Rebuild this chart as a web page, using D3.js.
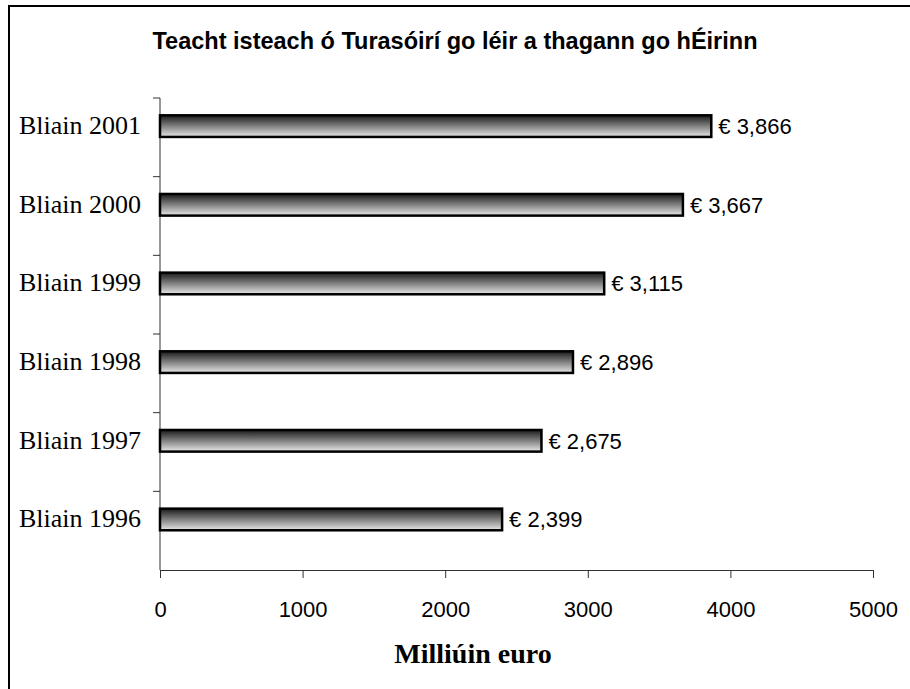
<!DOCTYPE html>
<html>
<head>
<meta charset="utf-8">
<script src="https://cdn.jsdelivr.net/npm/d3@7"></script>
<style>
  body { margin: 0; background: #fff; overflow: hidden; }
  svg { display: block; }
</style>
</head>
<body>
<div id="bar-chart"></div>
<script>
// Data
const categories = ["Bliain 2001", "Bliain 2000", "Bliain 1999", "Bliain 1998", "Bliain 1997", "Bliain 1996"];
const values = [3866, 3667, 3115, 2896, 2675, 2399];
const valueLabels = ["€ 3,866", "€ 3,667", "€ 3,115", "€ 2,896", "€ 2,675", "€ 2,399"];
const xTicks = [0, 1000, 2000, 3000, 4000, 5000];
const chartTitle = "Teacht isteach ó Turasóirí go léir a thagann go hÉirinn";
const xTitle = "Milliúin euro";

const width = 910;
const height = 689;
const margin = {top: 98, right: 37, bottom: 119, left: 160};
const innerWidth = width - margin.left - margin.right;
const innerHeight = height - margin.top - margin.bottom;

const sansFont = "Arial, 'Liberation Sans', sans-serif";
const serifFont = "'Times New Roman', 'Liberation Serif', serif";

const data = categories.map((c, i) => ({cat: c, value: values[i], label: valueLabels[i]}));

/*******************************/
/*    Append the containers    */
/*******************************/
const svg = d3.select("#bar-chart")
  .append("svg")
    .attr("width", width)
    .attr("height", height);

// Outer frame: only its left and top edges fall inside the picture
svg.append("path")
  .attr("d", `M9,${height} V6 H${width}`)
  .attr("fill", "none")
  .attr("stroke", "#000")
  .attr("stroke-width", 2);

// Gradient for the bars
const grad = svg.append("defs")
  .append("linearGradient")
    .attr("id", "bar-grad")
    .attr("x1", 0).attr("y1", 0)
    .attr("x2", 0).attr("y2", 1);
grad.append("stop").attr("offset", "0%").attr("stop-color", "#1a1a1a");
grad.append("stop").attr("offset", "100%").attr("stop-color", "#e8e8e8");

const innerChart = svg
  .append("g")
    .attr("transform", `translate(${margin.left}, ${margin.top})`);

/****************************/
/*    Declare the scales    */
/****************************/
const xScale = d3.scaleLinear()
  .domain([0, 5000])
  .range([0, innerWidth]);

const yScale = d3.scaleBand()
  .domain(categories)
  .range([0, innerHeight]);

const bw = yScale.bandwidth();

/***************************/
/*     Append the axes     */
/***************************/
const bottomAxis = d3.axisBottom(xScale)
  .tickValues(xTicks)
  .tickFormat(d3.format("d"))
  .tickSizeInner(8)
  .tickSizeOuter(0);
innerChart
  .append("g")
    .attr("class", "axis-x")
    .attr("transform", `translate(0, ${innerHeight})`)
    .call(bottomAxis)
    .attr("font-family", sansFont)
    .attr("font-size", 22)
    .call(g => g.selectAll("line, path").attr("stroke", "#333"))
    .call(g => g.selectAll("text").attr("y", 31).attr("fill", "#000"));

// Left axis: ticks sit on the band boundaries
const leftAxis = d3.axisLeft(yScale)
  .tickSize(0)
  .tickPadding(19);
const yAxis = innerChart
  .append("g")
    .attr("class", "axis-y")
    .call(leftAxis)
    .attr("font-family", serifFont)
    .attr("font-size", 26);
yAxis.select(".domain").remove();
yAxis.selectAll("text").attr("dy", "0.3em").attr("y", -bw * 0.14).attr("fill", "#000");
yAxis.append("line")
  .attr("x1", 0).attr("x2", 0)
  .attr("y1", 0).attr("y2", innerHeight)
  .attr("stroke", "#333");
yAxis.selectAll(".band-tick")
  .data(d3.range(categories.length))
  .join("line")
    .attr("class", "band-tick")
    .attr("x1", -7).attr("x2", 0)
    .attr("y1", i => yScale(categories[i]))
    .attr("y2", i => yScale(categories[i]))
    .attr("stroke", "#333");

/*****************************/
/*          Bars             */
/*****************************/
innerChart
  .selectAll(".bar")
  .data(data)
  .join("rect")
    .attr("class", "bar")
    .attr("x", 0)
    .attr("y", d => yScale(d.cat) + bw * 0.22)
    .attr("width", d => xScale(d.value))
    .attr("height", bw * 0.275)
    .attr("fill", "url(#bar-grad)")
    .attr("stroke", "#000")
    .attr("stroke-width", 2.5);

innerChart
  .selectAll(".value-label")
  .data(data)
  .join("text")
    .attr("class", "value-label")
    .attr("x", d => xScale(d.value) + 7)
    .attr("y", d => yScale(d.cat) + bw * 0.36)
    .attr("dy", "0.35em")
    .attr("font-family", sansFont)
    .attr("font-size", 22)
    .text(d => d.label);

/*****************************/
/*         Titles            */
/*****************************/
svg.append("text")
  .attr("x", 455)
  .attr("y", 49)
  .attr("text-anchor", "middle")
  .attr("font-family", sansFont)
  .attr("font-weight", "bold")
  .attr("font-size", 23.5)
  .text(chartTitle);

svg.append("text")
  .attr("x", 473)
  .attr("y", 663)
  .attr("text-anchor", "middle")
  .attr("font-family", serifFont)
  .attr("font-weight", "bold")
  .attr("font-size", 28)
  .text(xTitle);
</script>
</body>
</html>
